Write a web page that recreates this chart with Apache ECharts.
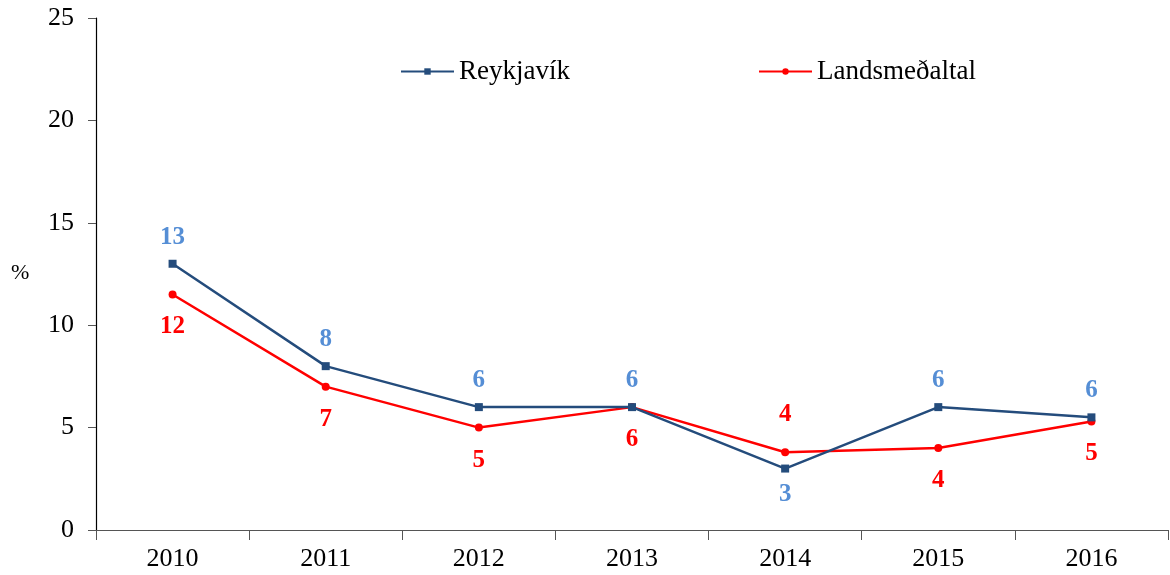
<!DOCTYPE html>
<html>
<head>
<meta charset="utf-8">
<script src="https://cdn.jsdelivr.net/npm/echarts@6/dist/echarts.min.js"></script>
<style>
  html, body { margin: 0; padding: 0; background: #fff; }
  #chart { width: 1170px; height: 575px; }
</style>
</head>
<body>
<div id="chart"></div>
<script>
// data
var years = ["2010", "2011", "2012", "2013", "2014", "2015", "2016"];
var reykjavik = [13, 8, 6, 6, 3, 6, 5.5];
var landsmedaltal = [11.5, 7, 5, 6, 3.8, 4, 5.3];
var yTicks = [0, 5, 10, 15, 20, 25];

var serif = "'Liberation Serif', 'Times New Roman', serif";
var blueLine = "#244C7C";
var blueLabel = "#558ED5";
var red = "#FF0000";

var chart = echarts.init(document.getElementById("chart"));

// label positions: blue above except 2014, red below except 2014
var blueData = reykjavik.map(function (v, i) {
  var below = years[i] === "2014";
  return { value: v, label: { position: below ? "bottom" : "top", distance: below ? 9 : 10 } };
});
var redData = landsmedaltal.map(function (v, i) {
  var above = years[i] === "2014";
  return { value: v, label: { position: above ? "top" : "bottom", distance: above ? 21 : 16 } };
});

chart.setOption({
  animation: false,
  backgroundColor: "#fff",
  textStyle: { fontFamily: serif },
  grid: { left: 96, right: 2, top: 18, bottom: 45 },
  legend: [
    {
      data: ["Reykjavík"],
      left: 395, top: 53,
      itemWidth: 53, itemHeight: 8, itemGap: 6,
      textStyle: { fontFamily: serif, fontSize: 27, color: "#000" }
    },
    {
      data: ["Landsmeðaltal"],
      left: 753, top: 53,
      itemWidth: 53, itemHeight: 8, itemGap: 6,
      textStyle: { fontFamily: serif, fontSize: 27, color: "#000" }
    }
  ],
  graphic: [{
    type: "text", left: 11, top: 262,
    style: { text: "%", font: "22px " + serif, fill: "#000" }
  }],
  xAxis: {
    type: "category",
    data: years,
    boundaryGap: true,
    axisLine: { lineStyle: { color: "#555", width: 1.2 } },
    axisTick: { show: true, length: 10, lineStyle: { color: "#555" } },
    axisLabel: { fontFamily: serif, fontSize: 26, color: "#000", margin: 16 }
  },
  yAxis: {
    type: "value",
    min: 0, max: 25, interval: 5,
    axisLine: { show: true, lineStyle: { color: "#000", width: 1.2 } },
    axisTick: { show: true, length: 8, lineStyle: { color: "#555" } },
    splitLine: { show: false },
    axisLabel: {
      fontFamily: serif, fontSize: 26, color: "#000", margin: 22,
      formatter: function (v) { return yTicks.indexOf(v) >= 0 ? String(v) : ""; }
    }
  },
  series: [
    {
      name: "Reykjavík",
      type: "line",
      data: blueData,
      symbol: "rect",
      symbolSize: 8,
      lineStyle: { color: blueLine, width: 2.5 },
      itemStyle: { color: blueLine },
      label: {
        show: true, fontFamily: serif, fontSize: 25, fontWeight: "bold", color: blueLabel,
        formatter: function (p) { return Math.round(p.value); }
      },
      z: 3
    },
    {
      name: "Landsmeðaltal",
      type: "line",
      data: redData,
      symbol: "circle",
      symbolSize: 8,
      lineStyle: { color: red, width: 2.5 },
      itemStyle: { color: red },
      label: {
        show: true, fontFamily: serif, fontSize: 25, fontWeight: "bold", color: red,
        formatter: function (p) { return Math.round(p.value); }
      },
      z: 2
    }
  ]
});
</script>
</body>
</html>
